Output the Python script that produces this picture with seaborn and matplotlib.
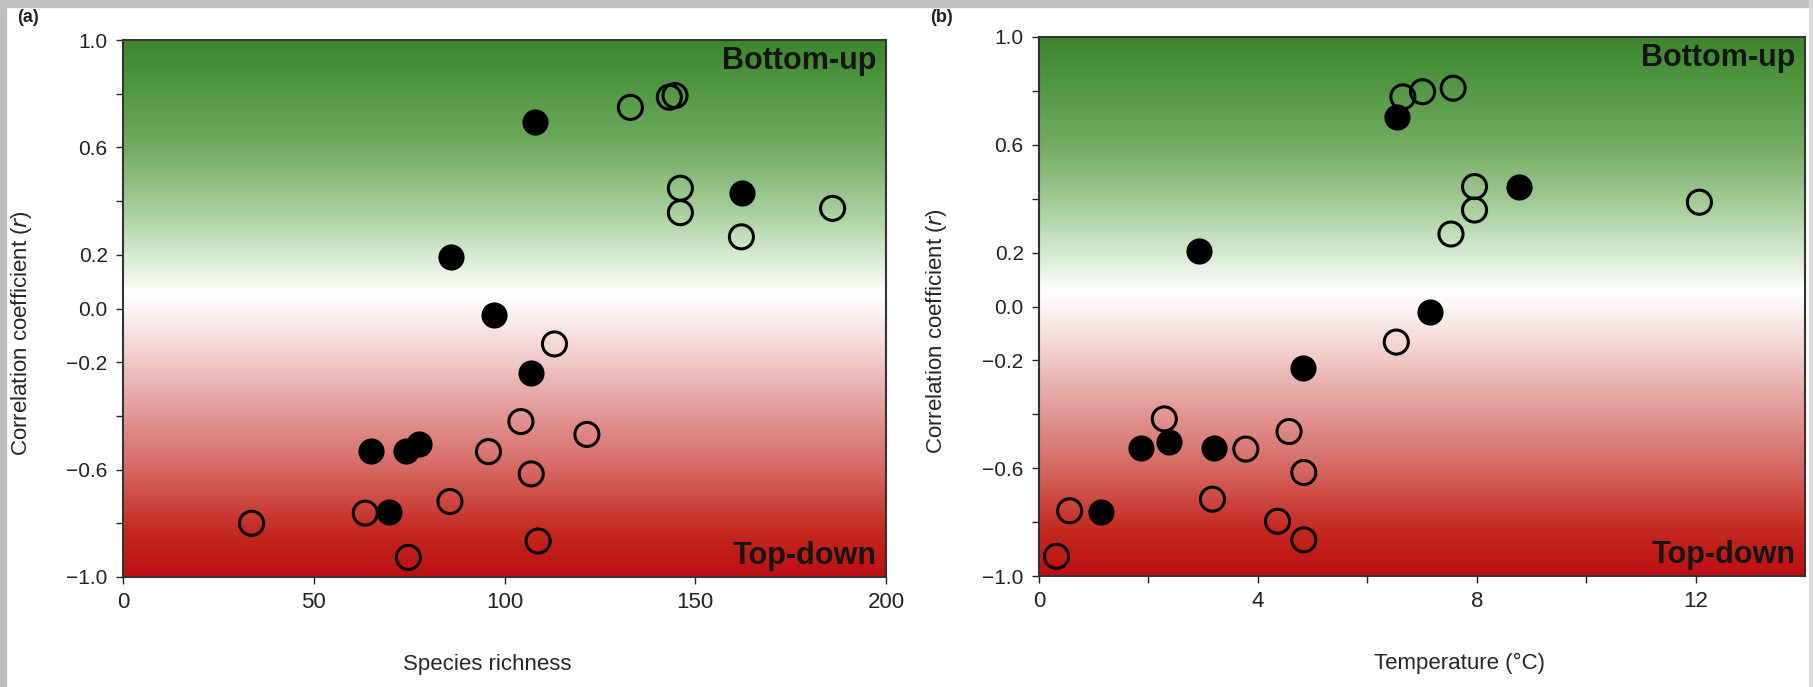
import numpy as np
import pandas as pd
import matplotlib
matplotlib.use('Agg')
import matplotlib.pyplot as plt
import matplotlib.patches as mpatches
from matplotlib.colors import LinearSegmentedColormap
import seaborn as sns

# (a) species richness vs correlation coefficient
rich_open = [33.7, 63.5, 74.8, 85.7, 95.8, 104.3, 107.0, 108.8, 113.1, 121.6,
             133.0, 143.2, 144.7, 146.1, 146.1, 162.1, 186.0]
r_rich_open = [-0.80, -0.762, -0.927, -0.719, -0.533, -0.421, -0.616, -0.866, -0.132, -0.469,
               0.749, 0.787, 0.793, 0.448, 0.357, 0.267, 0.373]
rich_filled = [65.0, 69.6, 74.2, 77.5, 86.0, 97.3, 107.0, 107.9, 162.3]
r_rich_filled = [-0.529, -0.758, -0.529, -0.503, 0.192, -0.024, -0.240, 0.693, 0.431]

# (b) temperature vs correlation coefficient
temp_open = [0.32, 0.56, 2.29, 3.78, 3.17, 4.57, 4.36, 4.84, 4.84, 6.53,
             6.65, 7.01, 7.57, 7.96, 7.96, 7.53, 12.07]
r_temp_open = [-0.927, -0.758, -0.417, -0.529, -0.715, -0.464, -0.797, -0.616, -0.866, -0.132,
               0.778, 0.797, 0.810, 0.445, 0.358, 0.269, 0.387]
temp_filled = [1.13, 1.86, 2.37, 3.19, 2.92, 6.55, 7.14, 4.82, 8.77]
r_temp_filled = [-0.762, -0.525, -0.503, -0.525, 0.205, 0.702, -0.019, -0.227, 0.442]

yticks = [-1.0, -0.8, -0.6, -0.4, -0.2, 0.0, 0.2, 0.4, 0.6, 0.8, 1.0]
ytick_labels = ['\u22121.0', '', '\u22120.6', '', '\u22120.2', '0.0', '0.2', '', '0.6', '', '1.0']

sns.set_style('ticks')
plt.rcParams['font.family'] = ['Liberation Sans', 'DejaVu Sans']

bg = LinearSegmentedColormap.from_list('bu_td', [
    (0.00, '#be0f14'), (0.08, '#c4281e'), (0.20, '#d66964'), (0.32, '#e4a09e'),
    (0.42, '#f3d2d2'), (0.50, '#fcf6f6'), (0.53, '#ffffff'), (0.58, '#e1f0de'),
    (0.68, '#aad09e'), (0.80, '#73ac62'), (0.92, '#509641'), (1.00, '#3e872d')])

fig = plt.figure(figsize=(18.13, 6.87), dpi=100)
fig.patch.set_facecolor('white')
W, H = 1813., 687.
ax1 = fig.add_axes([123/W, 1 - 577/H, 763/W, 537/H])
ax2 = fig.add_axes([1039/W, 1 - 576/H, 766/W, 539/H])


def panel(ax, xo, yo, xf, yf, xlim, xticks, xlabels, xlabel, xlab_pos):
    grad = np.linspace(-1, 1, 400).reshape(-1, 1)
    ax.imshow(grad, extent=[xlim[0], xlim[1], -1, 1], origin='lower', aspect='auto',
              cmap=bg, vmin=-1, vmax=1, zorder=0, interpolation='bicubic')
    sns.scatterplot(x=xo, y=yo, ax=ax, s=300, facecolors='none', edgecolor='black',
                    linewidth=2.2, zorder=3)
    sns.scatterplot(x=xf, y=yf, ax=ax, s=300, color='black', edgecolor='black',
                    linewidth=1.5, zorder=4)
    ax.set_xlim(xlim)
    ax.set_ylim(-1, 1)
    ax.set_xticks(xticks)
    ax.set_xticklabels(xlabels, fontsize=16)
    ax.set_yticks(yticks)
    ax.set_yticklabels(ytick_labels, fontsize=15)
    ax.tick_params(direction='out', length=5, width=1, colors='#222222', pad=6)
    for sp in ax.spines.values():
        sp.set_color('#333333')
        sp.set_linewidth(1.5)
        sp.set_visible(True)
    ax.set_xlabel(xlabel, fontsize=16)
    ax.xaxis.set_label_coords(xlab_pos, -0.143)
    ax.set_ylabel('Correlation coefficient ($\\it{r}$)', fontsize=16)
    ax.yaxis.set_label_coords(-0.117, 0.455)
    ax.text(0.988, 0.988, 'Bottom-up', transform=ax.transAxes, ha='right', va='top',
            fontsize=22, fontweight='bold', color='#151515', zorder=5)
    ax.text(0.988, 0.012, 'Top-down', transform=ax.transAxes, ha='right', va='bottom',
            fontsize=22, fontweight='bold', color='#151515', zorder=5)


panel(ax1, rich_open, r_rich_open, rich_filled, r_rich_filled, (0, 200),
      [0, 50, 100, 150, 200], ['0', '50', '100', '150', '200'], 'Species richness', 0.477)
panel(ax2, temp_open, r_temp_open, temp_filled, r_temp_filled, (0, 14),
      [0, 2, 4, 6, 8, 10, 12], ['0', '', '4', '', '8', '', '12'],
      'Temperature (\u00b0C)', 0.549)

# panel letters, tucked just under the grey frame
fig.text(17/W, 1 - 9/H, '(a)', fontsize=13, fontweight='bold', va='top', color='#222222')
fig.text(930/W, 1 - 9/H, '(b)', fontsize=13, fontweight='bold', va='top', color='#222222')

# grey frame of the screenshot
grey = '#bfbfbf'
fig.patches.append(mpatches.Rectangle((0, 1 - 7/H), 1, 7/H, transform=fig.transFigure,
                                      color=grey, zorder=10))
fig.patches.append(mpatches.Rectangle((0, 0), 6/W, 1, transform=fig.transFigure,
                                      color=grey, zorder=10))
fig.patches.append(mpatches.Rectangle((1 - 4/W, 0), 4/W, 1, transform=fig.transFigure,
                                      color='#d9d9d9', zorder=10))

fig.savefig('out.png', dpi=100)
